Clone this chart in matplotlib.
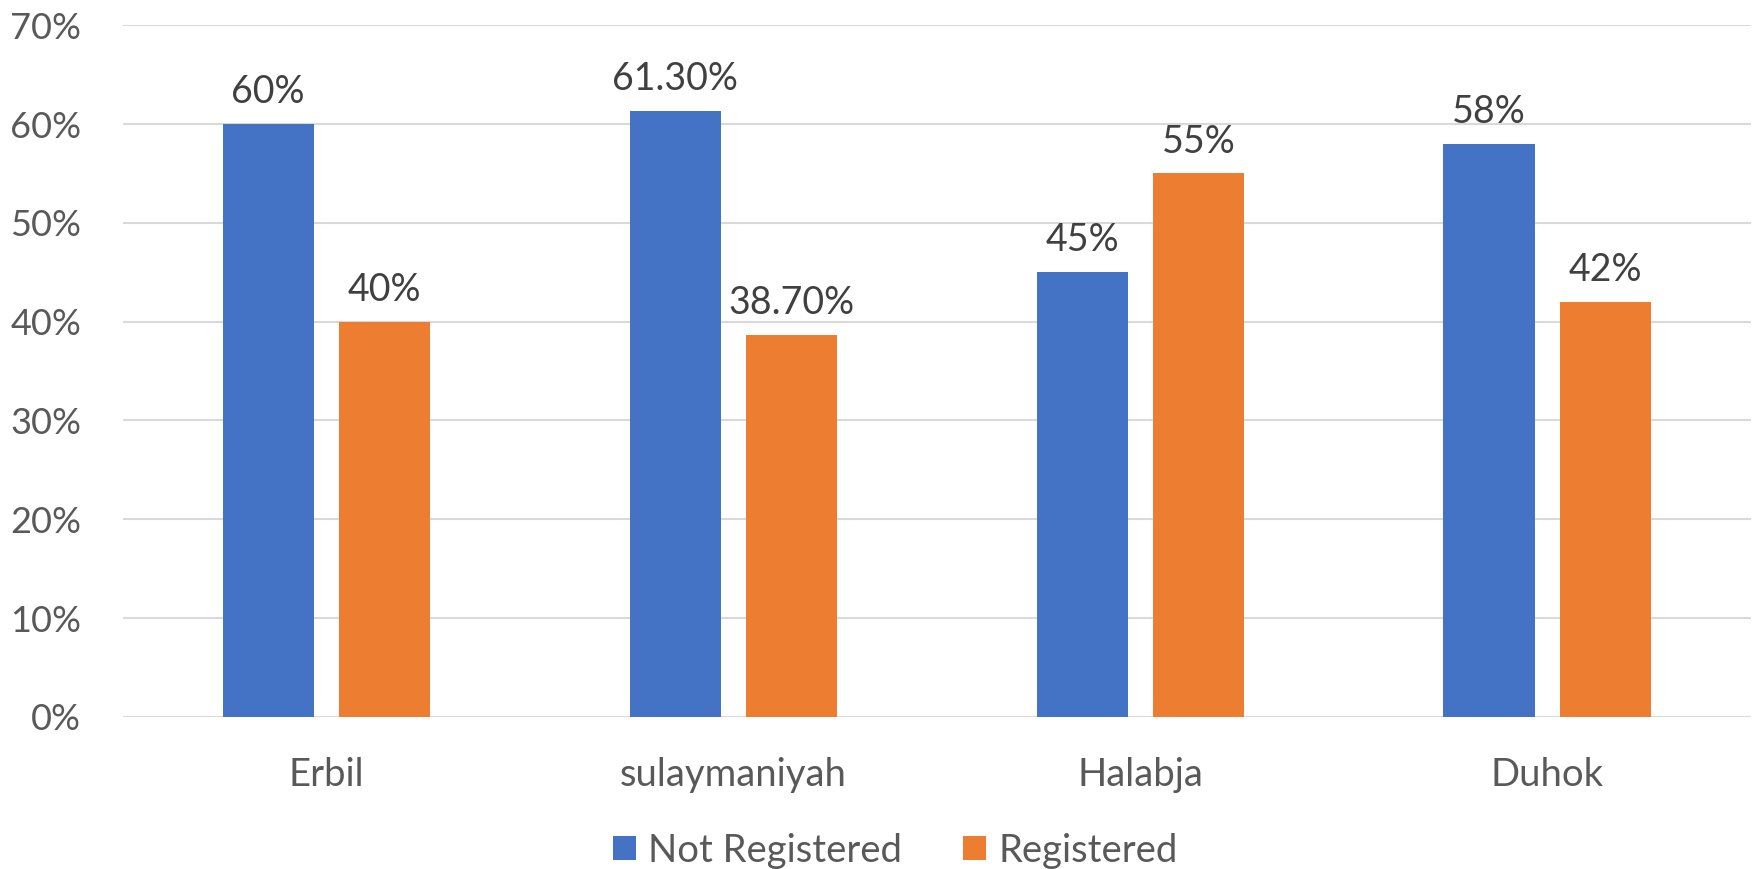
import numpy as np
import matplotlib.pyplot as plt
from matplotlib.ticker import FuncFormatter

plt.rcParams['font.family'] = ['Lato', 'DejaVu Sans']

regions = ['Erbil', 'sulaymaniyah', 'Halabja', 'Duhok']
not_registered = [60, 61.3, 45, 58]
registered = [40, 38.7, 55, 42]
series_names = ['Not Registered', 'Registered']
colors = ['#4472C4', '#ED7D31']


def pct(v):
    # excel style labels: whole numbers plain, others with two decimals
    return '%d%%' % v if float(v).is_integer() else '%.2f%%' % v


fig = plt.figure(figsize=(17.56, 8.69), dpi=100)
ax = fig.add_axes([0.070, 0.175, 0.927, 0.796])

x = np.arange(len(regions))
w = 0.224
off = 0.143
for vals, name, c, d in zip([not_registered, registered], series_names, colors, [-off, off]):
    bars = ax.bar(x + d, vals, w, color=c, label=name, zorder=3)
    for b, v in zip(bars, vals):
        ax.annotate(pct(v), (b.get_x() + b.get_width() / 2, v), xytext=(0, 10),
                    textcoords='offset points', ha='center', va='bottom',
                    fontsize=27, color='#404040')

ax.set_xlim(-0.5, len(regions) - 0.5)
ax.set_ylim(0, 70)
ax.set_yticks(range(0, 71, 10))
ax.yaxis.set_major_formatter(FuncFormatter(lambda v, p: '%d%%' % v))
ax.set_xticks(x)
ax.set_xticklabels(regions)
ax.grid(axis='y', color='#D9D9D9', linewidth=1.5, zorder=0)
for s in ax.spines.values():
    s.set_visible(False)
ax.tick_params(axis='both', length=0, colors='#595959')
ax.tick_params(axis='x', pad=29, labelsize=27.5)
ax.tick_params(axis='y', pad=30, labelsize=26)

fig.legend(loc='center', bbox_to_anchor=(0.51, 0.021), ncol=2, frameon=False,
           prop={'size': 27.5}, labelcolor='#595959', handlelength=0.6, handleheight=0.6,
           handletextpad=0.33, columnspacing=1.6)

fig.savefig('out.png', dpi=100)
